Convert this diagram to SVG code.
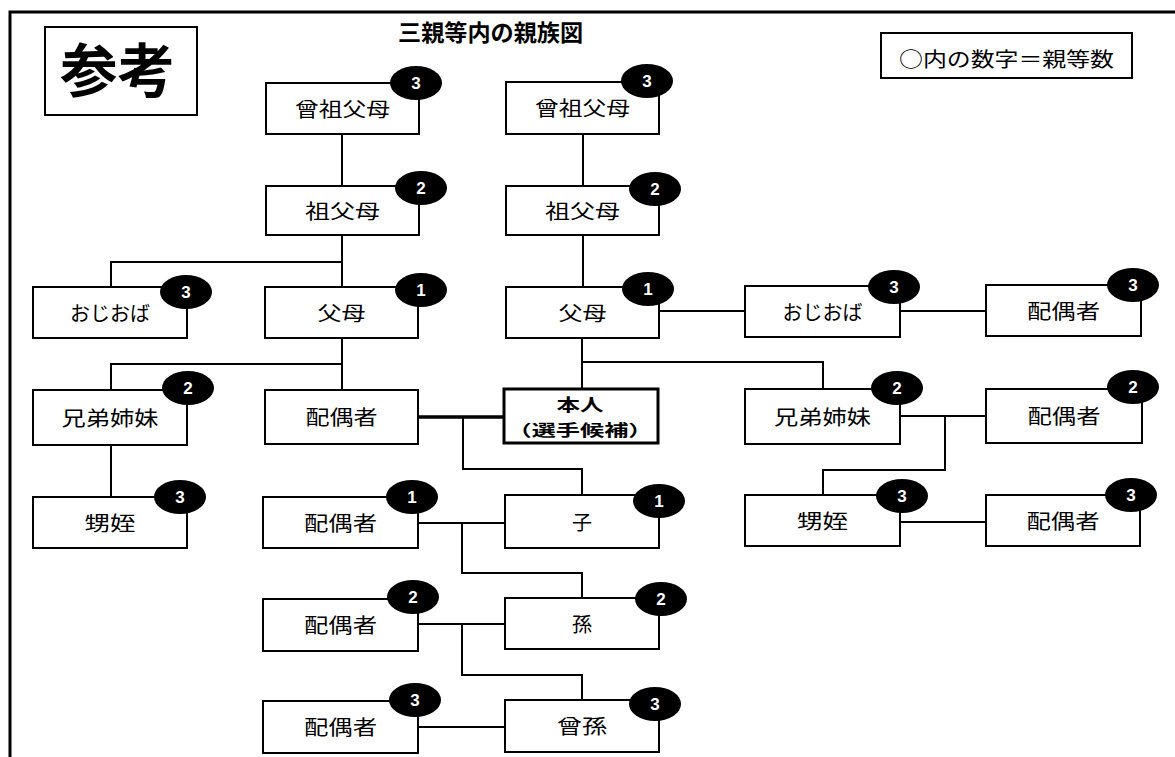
<svg xmlns="http://www.w3.org/2000/svg" width="1175" height="757" viewBox="0 0 1175 757">
<style>
.box{fill:#fff;stroke:#000;stroke-width:2}
.self{fill:#fff;stroke:#000;stroke-width:3}
.lbl{font-family:"Noto Sans CJK JP","Noto Sans CJK SC",sans-serif;font-size:20px;text-anchor:middle;fill:#000}
.bold{font-weight:bold}
.bd{fill:#000}
.num{font-family:"Liberation Sans",Arial,sans-serif;font-weight:bold;font-size:17px;fill:#fff;text-anchor:middle}
.conn{stroke:#000;stroke-width:2;fill:none}
.thick{stroke:#000;stroke-width:3.5;fill:none}
</style>
<rect width="1175" height="757" fill="#fff"/>
<path d="M10,757 V12 H1175" fill="none" stroke="#000" stroke-width="3"/>

<g id="header">
  <rect x="45" y="27" width="152" height="88" fill="#fff" stroke="#000" stroke-width="2"/>
  <text x="117.5" y="92" class="lbl bold" style="font-size:58px" textLength="115" lengthAdjust="spacingAndGlyphs">参考</text>
  <text x="490.5" y="41" class="lbl bold" style="font-size:23px" textLength="185" lengthAdjust="spacingAndGlyphs">三親等内の親族図</text>
  <rect x="881" y="33" width="251" height="45" fill="#fff" stroke="#000" stroke-width="2"/>
  <text x="1006.5" y="67" class="lbl" textLength="215" lengthAdjust="spacingAndGlyphs">○内の数字＝親等数</text>
</g>

<g id="connectors">
  <path class="conn" d="M342,134 V287 M342,262 H111 V287 M342,338 V390 M342,364 H111 V390 M111,445 V497"/>
  <path class="thick" d="M418,417 H504"/>
  <path class="conn" d="M463,417 V469 H582 V495"/>
  <path class="conn" d="M583,134 V186 M583,235 V287 M582,338 V389 M582,362 H823 V389"/>
  <path class="conn" d="M659,311 H745 M900,311 H986"/>
  <path class="conn" d="M900,416 H986 M945,416 V470 H823 V495 M900,522 H986"/>
  <path class="conn" d="M418,523 H505 M462,523 V573 H582 V598"/>
  <path class="conn" d="M418,624 H505 M462,624 V675 H582 V700"/>
  <path class="conn" d="M418,727 H505"/>
</g>

<g id="n-sosofubo-l"><rect class="box" x="266" y="83" width="153" height="51"/><text class="lbl" x="342.5" y="116.5" textLength="95" lengthAdjust="spacingAndGlyphs">曾祖父母</text><ellipse class="bd" cx="416" cy="83" rx="26" ry="17"/><text class="num" x="416" y="89">3</text></g>
<g id="n-sofubo-l"><rect class="box" x="266" y="186" width="153" height="49"/><text class="lbl" x="342.5" y="218.5" textLength="75" lengthAdjust="spacingAndGlyphs">祖父母</text><ellipse class="bd" cx="421" cy="188" rx="26" ry="17"/><text class="num" x="421" y="194">2</text></g>
<g id="n-fubo-l"><rect class="box" x="265" y="287" width="153" height="51"/><text class="lbl" x="341.5" y="320.5" textLength="48" lengthAdjust="spacingAndGlyphs">父母</text><ellipse class="bd" cx="421" cy="290" rx="26" ry="17"/><text class="num" x="421" y="296">1</text></g>
<g id="n-haigusha-self"><rect class="box" x="265" y="390" width="153" height="54"/><text class="lbl" x="341.5" y="425" textLength="72" lengthAdjust="spacingAndGlyphs">配偶者</text></g>
<g id="n-haigusha-1"><rect class="box" x="263" y="497" width="155" height="51"/><text class="lbl" x="340.5" y="530.5" textLength="73" lengthAdjust="spacingAndGlyphs">配偶者</text><ellipse class="bd" cx="412" cy="497" rx="26" ry="17"/><text class="num" x="412" y="503">1</text></g>
<g id="n-haigusha-2"><rect class="box" x="263" y="599" width="155" height="52"/><text class="lbl" x="340.5" y="633" textLength="73" lengthAdjust="spacingAndGlyphs">配偶者</text><ellipse class="bd" cx="413" cy="597" rx="26" ry="17"/><text class="num" x="413" y="603">2</text></g>
<g id="n-haigusha-3"><rect class="box" x="263" y="701" width="155" height="52"/><text class="lbl" x="340.5" y="735" textLength="73" lengthAdjust="spacingAndGlyphs">配偶者</text><ellipse class="bd" cx="415" cy="700" rx="26" ry="17"/><text class="num" x="415" y="706">3</text></g>

<g id="n-ojioba-l"><rect class="box" x="33" y="287" width="154" height="51"/><text class="lbl" x="110" y="320.5" textLength="80" lengthAdjust="spacingAndGlyphs">おじおば</text><ellipse class="bd" cx="186" cy="292" rx="26" ry="17"/><text class="num" x="186" y="298">3</text></g>
<g id="n-kyodai-l"><rect class="box" x="33" y="390" width="154" height="55"/><text class="lbl" x="110" y="425.5" textLength="97" lengthAdjust="spacingAndGlyphs">兄弟姉妹</text><ellipse class="bd" cx="188" cy="388" rx="26" ry="17"/><text class="num" x="188" y="394">2</text></g>
<g id="n-oimei-l"><rect class="box" x="33" y="497" width="154" height="51"/><text class="lbl" x="110" y="530.5" textLength="51" lengthAdjust="spacingAndGlyphs">甥姪</text><ellipse class="bd" cx="180" cy="497" rx="26" ry="17"/><text class="num" x="180" y="503">3</text></g>

<g id="n-sosofubo-r"><rect class="box" x="506" y="82" width="153" height="52"/><text class="lbl" x="582.5" y="116" textLength="95" lengthAdjust="spacingAndGlyphs">曾祖父母</text><ellipse class="bd" cx="647" cy="81" rx="26" ry="17"/><text class="num" x="647" y="87">3</text></g>
<g id="n-sofubo-r"><rect class="box" x="506" y="186" width="153" height="49"/><text class="lbl" x="582.5" y="218.5" textLength="75" lengthAdjust="spacingAndGlyphs">祖父母</text><ellipse class="bd" cx="655" cy="189" rx="26" ry="17"/><text class="num" x="655" y="195">2</text></g>
<g id="n-fubo-r"><rect class="box" x="506" y="287" width="153" height="51"/><text class="lbl" x="582.5" y="320.5" textLength="48" lengthAdjust="spacingAndGlyphs">父母</text><ellipse class="bd" cx="648" cy="289" rx="26" ry="17"/><text class="num" x="648" y="295">1</text></g>
<g id="n-honnin"><rect class="self" x="504" y="389" width="154" height="54"/><text class="lbl bold" x="580" y="411" style="font-size:17px" textLength="47" lengthAdjust="spacingAndGlyphs">本人</text><text class="lbl bold" x="580" y="436" style="font-size:16px" textLength="145" lengthAdjust="spacingAndGlyphs">（選手候補）</text></g>
<g id="n-ko"><rect class="box" x="505" y="495" width="154" height="53"/><text class="lbl" x="582" y="529.5">子</text><ellipse class="bd" cx="659" cy="501" rx="26" ry="17"/><text class="num" x="659" y="507">1</text></g>
<g id="n-mago"><rect class="box" x="505" y="598" width="154" height="51"/><text class="lbl" x="582" y="631.5">孫</text><ellipse class="bd" cx="661" cy="599" rx="26" ry="17"/><text class="num" x="661" y="605">2</text></g>
<g id="n-himago"><rect class="box" x="505" y="700" width="154" height="52"/><text class="lbl" x="582" y="734" textLength="50" lengthAdjust="spacingAndGlyphs">曾孫</text><ellipse class="bd" cx="655" cy="704" rx="26" ry="17"/><text class="num" x="655" y="710">3</text></g>

<g id="n-ojioba-r"><rect class="box" x="745" y="286" width="155" height="51"/><text class="lbl" x="822.5" y="319.5" textLength="80" lengthAdjust="spacingAndGlyphs">おじおば</text><ellipse class="bd" cx="894" cy="287" rx="26" ry="17"/><text class="num" x="894" y="293">3</text></g>
<g id="n-kyodai-r"><rect class="box" x="745" y="389" width="155" height="55"/><text class="lbl" x="822.5" y="424.5" textLength="97" lengthAdjust="spacingAndGlyphs">兄弟姉妹</text><ellipse class="bd" cx="897" cy="388" rx="26" ry="17"/><text class="num" x="897" y="394">2</text></g>
<g id="n-oimei-r"><rect class="box" x="745" y="495" width="155" height="51"/><text class="lbl" x="822.5" y="528.5" textLength="51" lengthAdjust="spacingAndGlyphs">甥姪</text><ellipse class="bd" cx="902" cy="496" rx="26" ry="17"/><text class="num" x="902" y="502">3</text></g>

<g id="n-haigusha-ojioba"><rect class="box" x="986" y="285" width="155" height="51"/><text class="lbl" x="1063.5" y="318.5" textLength="73" lengthAdjust="spacingAndGlyphs">配偶者</text><ellipse class="bd" cx="1133" cy="285" rx="26" ry="17"/><text class="num" x="1133" y="291">3</text></g>
<g id="n-haigusha-kyodai"><rect class="box" x="986" y="389" width="156" height="54"/><text class="lbl" x="1064" y="424" textLength="73" lengthAdjust="spacingAndGlyphs">配偶者</text><ellipse class="bd" cx="1133" cy="387" rx="26" ry="17"/><text class="num" x="1133" y="393">2</text></g>
<g id="n-haigusha-oimei"><rect class="box" x="986" y="495" width="154" height="51"/><text class="lbl" x="1063" y="528.5" textLength="73" lengthAdjust="spacingAndGlyphs">配偶者</text><ellipse class="bd" cx="1131" cy="495" rx="26" ry="17"/><text class="num" x="1131" y="501">3</text></g>
</svg>
